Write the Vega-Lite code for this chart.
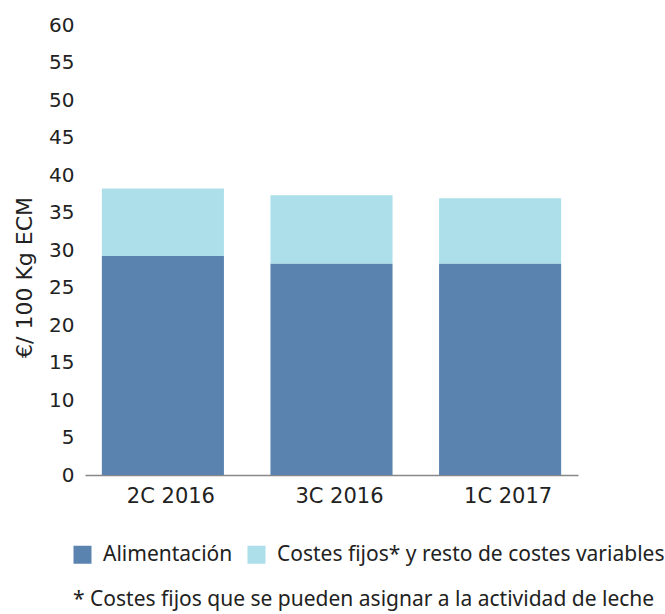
{
  "$schema": "https://vega.github.io/schema/vega-lite/v6.json",
  "width": 493,
  "height": 450,
  "autosize": {"type": "none"},
  "padding": {"left": 85, "top": 25, "right": 87, "bottom": 139},
  "background": "white",
  "config": {"view": {"stroke": null}, "font": "DejaVu Sans"},
  "title": {
    "text": "* Costes fijos que se pueden asignar a la actividad de leche",
    "orient": "bottom",
    "anchor": "start",
    "frame": "group",
    "font": "Noto Sans",
    "fontSize": 21,
    "fontWeight": "normal",
    "color": "#222222",
    "dx": -12,
    "offset": 24
  },
  "data": {
    "values": [
      {"periodo": "2C 2016", "tipo": "Alimentación", "orden": 1, "valor": 29.2},
      {"periodo": "2C 2016", "tipo": "Costes fijos* y resto de costes variables", "orden": 2, "valor": 9.0},
      {"periodo": "3C 2016", "tipo": "Alimentación", "orden": 1, "valor": 28.2},
      {"periodo": "3C 2016", "tipo": "Costes fijos* y resto de costes variables", "orden": 2, "valor": 9.1},
      {"periodo": "1C 2017", "tipo": "Alimentación", "orden": 1, "valor": 28.2},
      {"periodo": "1C 2017", "tipo": "Costes fijos* y resto de costes variables", "orden": 2, "valor": 8.7}
    ]
  },
  "mark": {"type": "bar"},
  "encoding": {
    "x": {
      "field": "periodo",
      "type": "nominal",
      "sort": ["2C 2016", "3C 2016", "1C 2017"],
      "scale": {"paddingInner": 0.276, "paddingOuter": 0.1},
      "axis": {
        "title": null,
        "labelAngle": 0,
        "labelFontSize": 21,
        "labelColor": "#222222",
        "labelPadding": 10,
        "labelOffset": 8,
        "ticks": false,
        "domainColor": "#888888",
        "domainWidth": 1.5
      }
    },
    "y": {
      "field": "valor",
      "type": "quantitative",
      "stack": "zero",
      "scale": {"domain": [0, 60]},
      "axis": {
        "title": "€/ 100 Kg ECM",
        "titleFontSize": 22,
        "titleFontWeight": "normal",
        "titleColor": "#222222",
        "titleX": -61,
        "titleY": 252,
        "titleBaseline": "middle",
        "titleAlign": "center",
        "values": [0, 5, 10, 15, 20, 25, 30, 35, 40, 45, 50, 55, 60],
        "labelFontSize": 20,
        "labelColor": "#222222",
        "labelPadding": 11,
        "ticks": false,
        "domain": false,
        "grid": false
      }
    },
    "color": {
      "field": "tipo",
      "type": "nominal",
      "scale": {
        "domain": ["Alimentación", "Costes fijos* y resto de costes variables"],
        "range": ["#5a83b0", "#acdfea"]
      },
      "legend": {
        "title": null,
        "orient": "none",
        "direction": "horizontal",
        "legendX": -13,
        "legendY": 519,
        "symbolType": "square",
        "symbolSize": 324,
        "symbolStrokeWidth": 0,
        "labelFont": "Noto Sans",
        "labelFontSize": 21,
        "labelLimit": 0,
        "labelColor": "#222222",
        "labelOffset": 10,
        "columnPadding": 13
      }
    },
    "order": {"field": "orden", "type": "quantitative"}
  }
}
